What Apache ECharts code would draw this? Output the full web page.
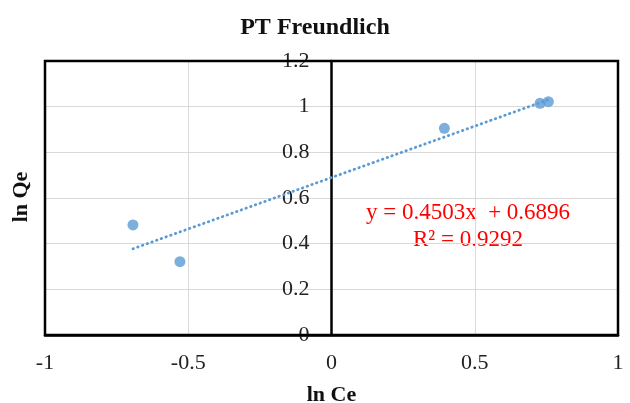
<!DOCTYPE html>
<html>
<head>
<meta charset="utf-8">
<script src="https://cdn.jsdelivr.net/npm/echarts@6/dist/echarts.min.js"></script>
<style>
  html, body { margin: 0; padding: 0; background: #fff; }
  #chart { width: 630px; height: 403px; }
</style>
</head>
<body>
<div id="chart"></div>
<script>
const lnCe = [-0.693, -0.529, 0.394, 0.728, 0.757]
const lnQe = [0.482, 0.321, 0.905, 1.015, 1.022]

// linear trendline as printed on the chart
const slope = 0.4503
const intercept = 0.6896
const eqLines = ['y = 0.4503x  + 0.6896', 'R² = 0.9292']

const xTicks = { min: -1, max: 1, interval: 0.5 }
const yTicks = { min: 0, max: 1.2, interval: 0.2 }

const serif = '"Liberation Serif", "Times New Roman", serif'
const blue = '#5B9BD5'

const points = lnCe.map((x, i) => [x, lnQe[i]])
const xLo = Math.min(...lnCe)
const xHi = Math.max(...lnCe)
const trend = [[xLo, slope * xLo + intercept], [xHi, slope * xHi + intercept]]

const gridLeft = 45
const gridRight = 12
const plotW = 630 - gridLeft - gridRight
// y axis sits on x = 0, so shift it in from the left edge
const yAxisShift = plotW * (0 - xTicks.min) / (xTicks.max - xTicks.min)

const chart = echarts.init(document.getElementById('chart'))

const option = {
  animation: false,
  title: {
    text: 'PT Freundlich',
    left: 'center',
    top: 11,
    textStyle: { fontFamily: serif, fontSize: 24, fontWeight: 'bold', color: '#111' }
  },
  grid: {
    left: gridLeft,
    right: gridRight,
    top: 61,
    bottom: 68,
    outerBoundsMode: 'none',
    containLabel: false,
    show: true,
    borderColor: '#000',
    borderWidth: 2.5,
    z: 3
  },
  xAxis: {
    type: 'value',
    min: xTicks.min,
    max: xTicks.max,
    interval: xTicks.interval,
    name: 'ln Ce',
    nameLocation: 'middle',
    nameGap: 49,
    nameTextStyle: { fontFamily: serif, fontSize: 22, fontWeight: 'bold', color: '#111' },
    axisLine: { onZero: false, lineStyle: { color: '#000', width: 2.5 } },
    axisTick: { show: false },
    axisLabel: { fontFamily: serif, fontSize: 22, color: '#222', margin: 17 },
    splitLine: { show: true, lineStyle: { color: '#d9d9d9', width: 1 } }
  },
  yAxis: {
    type: 'value',
    position: 'left',
    offset: -yAxisShift,
    min: yTicks.min,
    max: yTicks.max,
    interval: yTicks.interval,
    axisLine: { show: true, onZero: false, lineStyle: { color: '#000', width: 2.5 } },
    axisTick: { show: false },
    axisLabel: { fontFamily: serif, fontSize: 22, color: '#222', margin: 22 },
    splitLine: { show: true, lineStyle: { color: '#d9d9d9', width: 1 } }
  },
  graphic: [
    {
      type: 'text',
      x: 21,
      y: 197,
      rotation: Math.PI / 2,
      style: {
        text: 'ln Qe',
        fontFamily: serif,
        fontSize: 22,
        fontWeight: 'bold',
        fill: '#111',
        align: 'center',
        verticalAlign: 'middle'
      }
    },
    {
      type: 'text',
      x: 468,
      y: 213,
      style: {
        text: eqLines[0],
        fontFamily: serif,
        fontSize: 23,
        fill: '#ff0000',
        align: 'center',
        verticalAlign: 'middle'
      }
    },
    {
      type: 'text',
      x: 468,
      y: 240,
      style: {
        text: eqLines[1],
        fontFamily: serif,
        fontSize: 23,
        fill: '#ff0000',
        align: 'center',
        verticalAlign: 'middle'
      }
    }
  ],
  series: [
    {
      name: 'trend',
      type: 'line',
      data: trend,
      symbol: 'none',
      silent: true,
      lineStyle: { color: blue, width: 2.8, type: [0.5, 4.5], cap: 'round' },
      z: 2
    },
    {
      name: 'ln Qe',
      type: 'scatter',
      data: points,
      symbolSize: 11,
      itemStyle: { color: blue },
      z: 3
    }
  ]
}

chart.setOption(option)
</script>
</body>
</html>
